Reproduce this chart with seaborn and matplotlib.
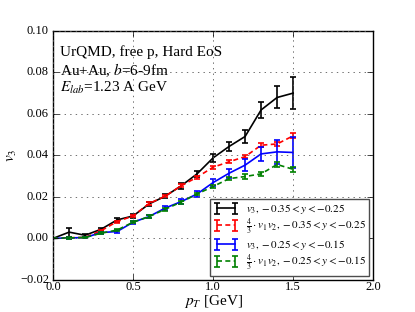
import numpy as np
import pandas as pd
import matplotlib
matplotlib.use("Agg")
import matplotlib.pyplot as plt
import seaborn as sns
from matplotlib.legend_handler import HandlerTuple

# ---------------- data ----------------
pt = [0.0, 0.1, 0.2, 0.3, 0.4, 0.5, 0.6, 0.7, 0.8, 0.9, 1.0, 1.1, 1.2, 1.3, 1.4, 1.5]

v3_a = [0.0, 0.0030, 0.0015, 0.0044, 0.0089, 0.0108, 0.0166, 0.0203, 0.0253, 0.0311,
        0.0388, 0.0443, 0.0491, 0.0619, 0.0679, 0.0700]
v3_a_err = [0.0, 0.0022, 0.0008, 0.0008, 0.0008, 0.0008, 0.0010, 0.0010, 0.0013, 0.0016,
            0.0018, 0.0022, 0.0029, 0.0039, 0.0053, 0.0077]

v12_a = [0.0, 0.0003, 0.0005, 0.0037, 0.0081, 0.0108, 0.0168, 0.0203, 0.0253, 0.0295,
         0.0343, 0.0369, 0.0394, 0.0449, 0.0455, 0.0494]
v12_a_err = [0.0, 0.0003, 0.0003, 0.0004, 0.0005, 0.0005, 0.0006, 0.0006, 0.0007, 0.0007,
             0.0008, 0.0008, 0.0009, 0.0010, 0.0010, 0.0012]

v3_b = [0.0, 0.0002, 0.0004, 0.0028, 0.0033, 0.0078, 0.0105, 0.0146, 0.0177, 0.0214,
        0.0269, 0.0314, 0.0353, 0.0407, 0.0417, 0.0414]
v3_b_err = [0.0, 0.0004, 0.0004, 0.0005, 0.0006, 0.0007, 0.0008, 0.0010, 0.0011, 0.0013,
            0.0019, 0.0022, 0.0029, 0.0035, 0.0058, 0.0075]

v12_b = [0.0, 0.0002, 0.0004, 0.0025, 0.0040, 0.0078, 0.0105, 0.0140, 0.0175, 0.0214,
         0.0250, 0.0288, 0.0298, 0.0311, 0.0356, 0.0333]
v12_b_err = [0.0, 0.0003, 0.0003, 0.0004, 0.0005, 0.0005, 0.0006, 0.0006, 0.0007, 0.0007,
             0.0008, 0.0009, 0.0010, 0.0011, 0.0013, 0.0013]

labels = [r"$v_3, -0.35<y<-0.25$",
          r"$\frac{4}{3}\cdot v_1 v_2, -0.35<y<-0.25$",
          r"$v_3, -0.25<y<-0.15$",
          r"$\frac{4}{3}\cdot v_1 v_2, -0.25<y<-0.15$"]
colors = ["k", "r", "b", "g"]
styles = ["-", "--", "-", "--"]

x_ticks = [0.0, 0.5, 1.0, 1.5, 2.0]
y_ticks = [-0.02, 0.0, 0.02, 0.04, 0.06, 0.08, 0.10]

# ---------------- style ----------------
plt.style.use("classic")
plt.rcParams["font.family"] = "serif"
plt.rcParams["font.serif"] = ["Liberation Serif"]
plt.rcParams["mathtext.fontset"] = "stix"
plt.rcParams["lines.scale_dashes"] = False

fig = plt.figure(figsize=(4.15, 3.12), dpi=100)
fig.patch.set_facecolor("white")
ax = fig.add_axes([0.128, 0.103, 0.771, 0.798])

series = [(v3_a, v3_a_err), (v12_a, v12_a_err), (v3_b, v3_b_err), (v12_b, v12_b_err)]
handles = []
for (vals, errs), c, ls, lab in zip(series, colors, styles, labels):
    df = pd.DataFrame({"pt": pt, "v": vals})
    sns.lineplot(data=df, x="pt", y="v", ax=ax, color=c, legend=False,
                 linewidth=1.2, errorbar=None)
    line = ax.lines[-1]
    if ls == "--":
        line.set_linestyle((0, (3.6, 2.4)))
    cont = ax.errorbar(pt, vals, yerr=errs, fmt="none", ecolor=c,
                       elinewidth=1.2, capsize=2.2, capthick=1.2)
    handles.append((line, cont))

ax.set_xlim(0.0, 2.0)
ax.set_ylim(-0.02, 0.10)
ax.set_xticks(x_ticks)
ax.set_yticks(y_ticks)
ax.grid(True, linestyle=":", color="0.35", linewidth=0.6)
ax.tick_params(axis="x", labelsize=9, pad=1)
ax.tick_params(axis="y", labelsize=9, pad=3)
ax.set_xlabel(r"$p_T$ [GeV]", fontsize=11, labelpad=0)
ax.set_ylabel(r"$v_3$", fontsize=11, labelpad=1)

ax.text(0.022, 0.915, "UrQMD, free p, Hard EoS", transform=ax.transAxes, fontsize=11,
        va="center", ha="left")
ax.text(0.022, 0.843, r"Au+Au, $b$=6-9fm", transform=ax.transAxes, fontsize=11,
        va="center", ha="left")
ax.text(0.022, 0.771, r"$E_{lab}$=1.23 A GeV", transform=ax.transAxes, fontsize=11,
        va="center", ha="left")

leg = ax.legend(handles, labels, loc="lower right", fontsize=8, numpoints=2,
                handler_map={tuple: HandlerTuple(ndivide=1, pad=0)},
                handlelength=2.2, borderaxespad=0.35, labelspacing=0.1,
                handletextpad=0.7, borderpad=0.3)
leg.get_frame().set_edgecolor("0.3")
leg.get_frame().set_linewidth(1.0)

fig.savefig("out.png", dpi=100, facecolor="white")
